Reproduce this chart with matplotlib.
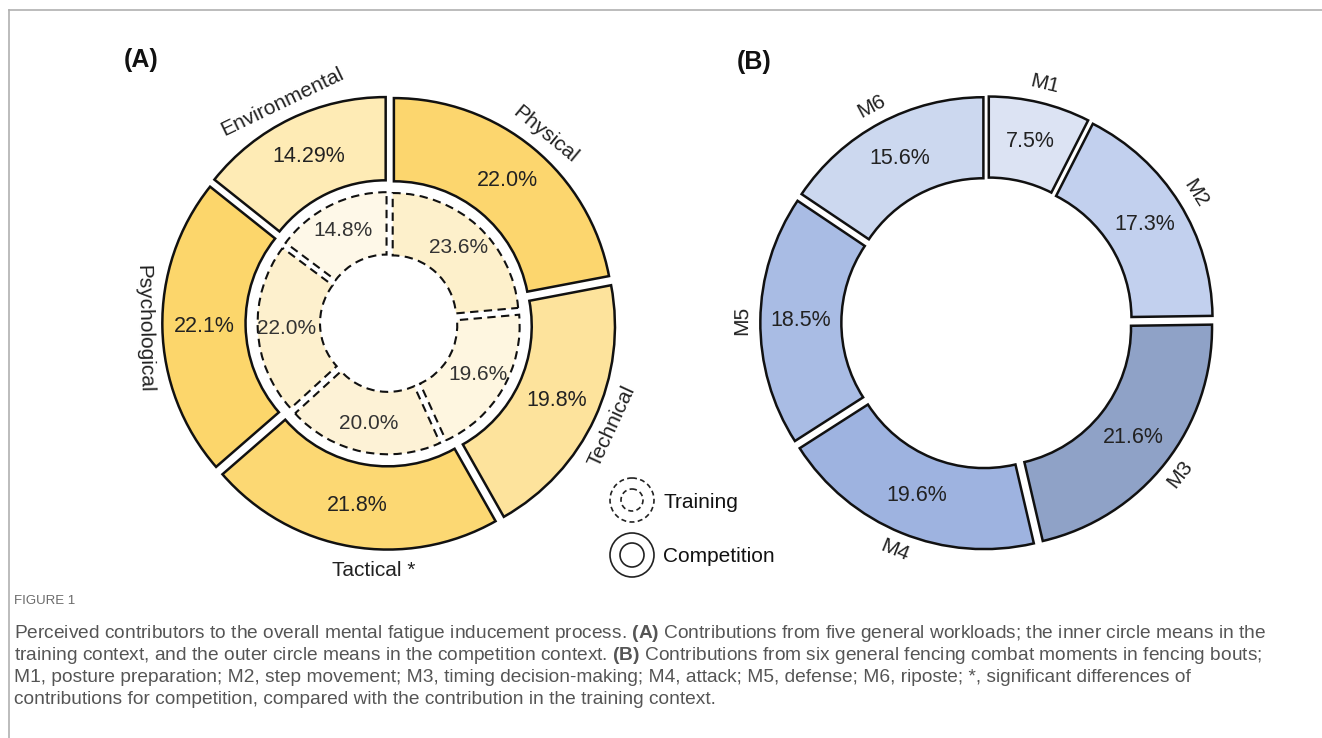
import numpy as np
import matplotlib.pyplot as plt
from matplotlib.patches import Circle

plt.rcParams['font.family'] = ['Liberation Sans', 'DejaVu Sans']
plt.rcParams['mathtext.fontset'] = 'custom'
plt.rcParams['mathtext.bf'] = 'Liberation Sans:bold'
plt.rcParams['mathtext.rm'] = 'Liberation Sans'

# (A) general workloads, clockwise from 12 o'clock
workloads = ['Physical', 'Technical', 'Tactical *', 'Psychological', 'Environmental']
competition = [22.0, 19.8, 21.8, 22.1, 14.29]
training = [23.6, 19.6, 20.0, 22.0, 14.8]
comp_colors = ['#fcd66e', '#fde39c', '#fcd873', '#fcd66b', '#feebb5']
train_colors = ['#fdf0cb', '#fef6e0', '#fdf2d6', '#fdf0cd', '#fef8e8']

# (B) fencing combat moments
moments = ['M1', 'M2', 'M3', 'M4', 'M5', 'M6']
moment_share = [7.5, 17.3, 21.6, 19.6, 18.5, 15.6]
moment_colors = ['#dce3f3', '#c2d0ee', '#8fa2c7', '#9eb3e0', '#a9bce4', '#ccd8ef']

caption_head = 'FIGURE 1'
caption_lines = [
    r'Perceived contributors to the overall mental fatigue inducement process. $\mathbf{(A)}$ Contributions from five general workloads; the inner circle means in the',
    r'training context, and the outer circle means in the competition context. $\mathbf{(B)}$ Contributions from six general fencing combat moments in fencing bouts;',
    'M1, posture preparation; M2, step movement; M3, timing decision-making; M4, attack; M5, defense; M6, riposte; *, significant differences of',
    'contributions for competition, compared with the contribution in the training context.',
]

W, H = 1322, 738
fig = plt.figure(figsize=(W / 100, H / 100), dpi=100)

# full-figure layer in pixel units for frame, legend and caption
bg = fig.add_axes([0, 0, 1, 1])
bg.set_xlim(0, W)
bg.set_ylim(H, 0)
bg.axis('off')
bg.plot([9, W], [10, 10], color='#b0b0b0', lw=1.2)
bg.plot([9, 9], [10, H], color='#b0b0b0', lw=1.2)


def pct(v):
    return f'{v:.1f}%' if round(v, 1) == v else f'{v:.2f}%'


def upright(a):
    while a < -90:
        a += 180
    while a > 90:
        a -= 180
    return a


def donut_axes(cx, cy, unit, lim=1.35):
    size = 2 * lim * unit
    ax = fig.add_axes([(cx - size / 2) / W, (H - cy - size / 2) / H, size / W, size / H])
    return ax, lim


def finish(ax, lim):
    ax.set_xlim(-lim, lim)
    ax.set_ylim(-lim, lim)
    ax.axis('off')


# ---- panel A ----
axA, lim = donut_axes(389, 323, 219)
expl_out, expl_in = 0.035, 0.025
out_w, _ = axA.pie(competition, radius=1.0, startangle=90, counterclock=False,
                   colors=comp_colors, explode=[expl_out] * len(competition),
                   wedgeprops=dict(width=0.38, edgecolor='#111111', linewidth=1.8))
in_w, _ = axA.pie(training, radius=0.575, startangle=90, counterclock=False,
                  colors=train_colors, explode=[expl_in] * len(training),
                  wedgeprops=dict(width=0.285, edgecolor='#111111', linewidth=1.5,
                                  linestyle=(0, (4, 2.6))))
finish(axA, lim)

for w, name, v in zip(out_w, workloads, competition):
    mid = (w.theta1 + w.theta2) / 2
    m = np.deg2rad(mid)
    r = 0.81 + expl_out
    axA.text(r * np.cos(m), r * np.sin(m), pct(v), ha='center', va='center',
             fontsize=15.5, color='#222222')
    if name == 'Tactical *':
        # bottom label sits level, just under the ring
        rot, m, r = 0, np.deg2rad(-93.5), 1.13
    else:
        rot, r = upright(mid - 90), 1.12
    axA.text(r * np.cos(m), r * np.sin(m), name, ha='center', va='center',
             rotation=rot, rotation_mode='anchor', fontsize=15, color='#222222')

for w, v in zip(in_w, training):
    m = np.deg2rad((w.theta1 + w.theta2) / 2)
    r = 0.445 + expl_in
    axA.text(r * np.cos(m), r * np.sin(m), pct(v), ha='center', va='center',
             fontsize=15, color='#333333')

# ---- panel B ----
axB, lim = donut_axes(987, 323, 219)
mw, _ = axB.pie(moment_share, radius=1.0, startangle=90, counterclock=False,
                colors=moment_colors, explode=[0.035] * len(moment_share),
                wedgeprops=dict(width=0.37, edgecolor='#111111', linewidth=1.8))
finish(axB, lim)

for w, name, v in zip(mw, moments, moment_share):
    m = np.deg2rad((w.theta1 + w.theta2) / 2)
    r = 0.815 + 0.035
    axB.text(r * np.cos(m), r * np.sin(m), pct(v), ha='center', va='center',
             fontsize=15.5, color='#222222')
    r = 1.12
    axB.text(r * np.cos(m), r * np.sin(m), name, ha='center', va='center',
             rotation=upright(np.rad2deg(m) - 90), rotation_mode='anchor',
             fontsize=15, color='#222222')

# panel tags
bg.text(124, 60, '(A)', fontsize=18, fontweight='bold', va='center', color='#111111')
bg.text(737, 62, '(B)', fontsize=18, fontweight='bold', va='center', color='#111111')

# legend for the two rings of panel A
for cy, ls, label in [(500, (0, (3, 2)), 'Training'), (555, '-', 'Competition')]:
    for rad in (22, 11 if ls != '-' else 12):
        bg.add_patch(Circle((632, cy), rad, fill=False, ec='#222222', lw=1.2, ls=ls))
    bg.text(663, cy + 2, label, fontsize=15, va='center', color='#111111')

# caption
bg.text(14, 601, caption_head, fontsize=9.5, va='center', color='#6a6a6a')
for i, line in enumerate(caption_lines):
    bg.text(14, 634 + 22 * i, line, fontsize=13.8, va='center', color='#555555')

fig.savefig('out.png', dpi=100)
